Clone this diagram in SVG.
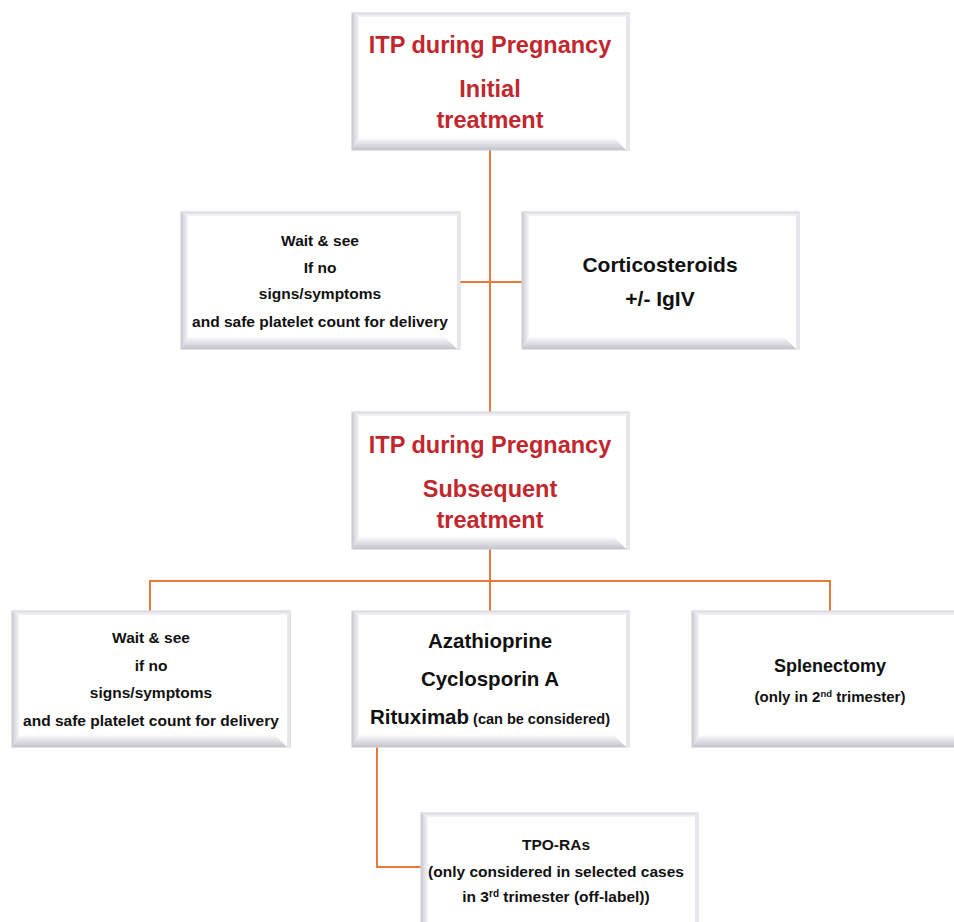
<svg xmlns="http://www.w3.org/2000/svg" xmlns:xlink="http://www.w3.org/1999/xlink" width="954" height="922" viewBox="0 0 954 922">
<style>
  .t { font-family: "Liberation Sans", Arial, sans-serif; font-weight: bold; text-anchor: middle; fill: #111; }
  .red { fill: #C1272D; font-size: 23.5px; }
  .sm { font-size: 15.5px; }
  .md { font-size: 20.5px; }
  .conn { fill: none; stroke: #E8793A; stroke-width: 2; }
</style>
<defs>
  <linearGradient id="gTop" x1="0" y1="0" x2="0" y2="1">
    <stop offset="0" stop-color="#dcdce2"/>
    <stop offset="1" stop-color="#f6f6f8"/>
  </linearGradient>
  <linearGradient id="gLeft" x1="0" y1="0" x2="1" y2="0">
    <stop offset="0" stop-color="#c9c9d2"/>
    <stop offset="1" stop-color="#f7f7f9"/>
  </linearGradient>
  <linearGradient id="gBot" x1="0" y1="0" x2="0" y2="1">
    <stop offset="0" stop-color="#fbfbfc"/>
    <stop offset="1" stop-color="#c3c3cc"/>
  </linearGradient>
  <g id="box">
    <rect x="0" y="0" width="277" height="137" fill="#ffffff" stroke="#d4d4da" stroke-width="1.2"/>
    <polygon points="0,0 277,0 274,4 7,4" fill="url(#gTop)"/>
    <polygon points="0,0 7,4 7,125 0,137" fill="url(#gLeft)"/>
    <polygon points="0,137 7,125 262,125 274,137" fill="url(#gBot)"/>
    <polygon points="277,0 277,137 274,137 274,4" fill="#e6e6eb"/>
  </g>
</defs>
<rect width="954" height="922" fill="#ffffff"/>

<g id="connectors">
  <line class="conn" x1="490" y1="150" x2="490" y2="412"/>
  <line class="conn" x1="460" y1="282" x2="522" y2="282"/>
  <line class="conn" x1="490" y1="549" x2="490" y2="611"/>
  <polyline class="conn" points="150,611 150,581 830,581 830,611"/>
  <polyline class="conn" points="377,747 377,867 421,867"/>
</g>

<g id="initial">
  <use xlink:href="#box" transform="translate(352,13)"/>
  <text class="t red" x="490" y="53">ITP during Pregnancy</text>
  <text class="t red" x="490" y="97">Initial</text>
  <text class="t red" x="490" y="128">treatment</text>
</g>

<g id="wait1">
  <use xlink:href="#box" transform="translate(181,212) scale(1.007,1)"/>
  <text class="t sm" x="320" y="246">Wait &amp; see</text>
  <text class="t sm" x="320" y="273">If no</text>
  <text class="t sm" x="320" y="299">signs/symptoms</text>
  <text class="t sm" x="320" y="327">and safe platelet count for delivery</text>
</g>

<g id="cortico">
  <use xlink:href="#box" transform="translate(522,212)"/>
  <text class="t" style="font-size:21px" x="660" y="272">Corticosteroids</text>
  <text class="t" style="font-size:21px" x="660" y="306">+/- IgIV</text>
</g>

<g id="subsequent">
  <use xlink:href="#box" transform="translate(352,412)"/>
  <text class="t red" x="490" y="453">ITP during Pregnancy</text>
  <text class="t red" x="490" y="497">Subsequent</text>
  <text class="t red" x="490" y="528">treatment</text>
</g>

<g id="wait2">
  <use xlink:href="#box" transform="translate(12,611) scale(1.004,0.993)"/>
  <text class="t sm" x="151" y="643">Wait &amp; see</text>
  <text class="t sm" x="151" y="671">if no</text>
  <text class="t sm" x="151" y="698">signs/symptoms</text>
  <text class="t sm" x="151" y="726">and safe platelet count for delivery</text>
</g>

<g id="drugs">
  <use xlink:href="#box" transform="translate(352,611) scale(1,0.993)"/>
  <text class="t md" x="490" y="648">Azathioprine</text>
  <text class="t md" x="490" y="686">Cyclosporin A</text>
  <text class="t" x="490" y="724"><tspan style="font-size:20.5px">Rituximab</tspan><tspan style="font-size:14.5px"> (can be considered)</tspan></text>
</g>

<g id="splenectomy">
  <use xlink:href="#box" transform="translate(692,611) scale(1,0.993)"/>
  <text class="t" style="font-size:18px" x="830" y="672">Splenectomy</text>
  <text class="t" style="font-size:15px" x="830" y="702">(only in 2<tspan style="font-size:9.5px" baseline-shift="super">nd</tspan> trimester)</text>
</g>

<g id="tpo">
  <use xlink:href="#box" transform="translate(421,813)"/>
  <text class="t sm" x="556" y="850">TPO-RAs</text>
  <text class="t sm" x="556" y="877">(only considered in selected cases</text>
  <text class="t sm" x="556" y="902">in 3<tspan style="font-size:10px" baseline-shift="super">rd</tspan> trimester (off-label))</text>
</g>
</svg>
